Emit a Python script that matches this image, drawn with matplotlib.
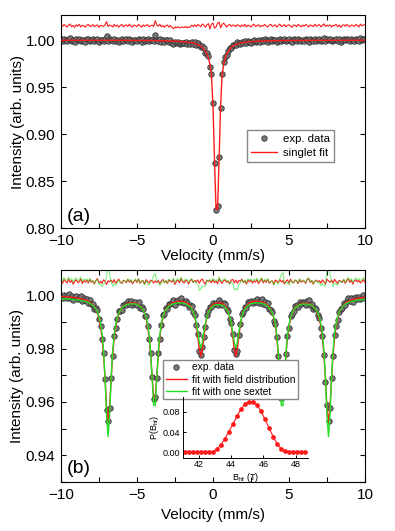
import matplotlib
matplotlib.use("Agg")
import matplotlib.pyplot as plt
import numpy as np
from matplotlib.ticker import MultipleLocator

plt.rcParams['font.family'] = ['Liberation Sans', 'DejaVu Sans']
plt.rcParams['mathtext.default'] = 'regular'

# ---------------- panel (a): singlet ----------------
data_a = [
    1.0008, .9993, 1.0013, .9998, .9986, 1.0006, 1.0018, .9990, 1.0003, .9983,
    1.0010, .9995, 1.0016, .9988, 1.0004, 1.0000, .9984, 1.0007, 1.0014, .9992,
    .9995, 1.0011, .9988, 1.0001, 1.0008, .9981, 1.0004, .9998, .9992, 1.0010,
    1.0042, .9990, 1.0007, 1.0000, .9986, 1.0014, .9993, 1.0005, .9984, 1.0003,
    1.0012, .9988, .9999, 1.0008, .9990, 1.0015, .9995, .9984, 1.0005, 1.0000,
    .9988, 1.0012, 1.0001, .9981, 1.0006, .9992, 1.0002, 1.0008, .9985, .9997,
    1.0003, .9989, 1.0050, 1.0005, .9989, 1.0011, .9984, .9999, .9977, .9995,
    1.0001, .9979, .9995, .9971, .9959, .9978, .9967, .9978, .9963, .9969,
    .9971, .9964, .9976, .9959, .9967, .9961, .9980, .9963, .9977, .9951,
    .9968, .9950, .9927, .9940, .9910, .9865, .9862, .9835, .9710, .9640,
    .9330, .8695, .8190, .8230, .8760, .9280, .9635, .9770, .9820, .9838,
    .9888, .9915, .9915, .9945, .9951, .9945, .9974, .9968, .9960, .9983,
    .9971, .9993, .9968, .9988, .9984, .9970, .9994, 1.0003, .9979, .9991,
    1.0001, .9979, .9995, .9987, 1.0006, .9991, .9980, 1.0001, 1.0010, .9988,
    .9996, 1.0004, .9979, 1.0003, 1.0015, .9989, .9996, 1.0009, .9986, 1.0000,
    1.0007, .9993, .9980, 1.0006, 1.0003, .9988, 1.0012, 1.0000, .9985, 1.0005,
    .9993, 1.0011, 1.0002, .9984, 1.0008, .9999, .9990, 1.0016, .9993, 1.0005,
    1.0011, .9987, 1.0002, 1.0019, .9991, 1.0006, .9996, 1.0009, .9985, 1.0004,
    1.0000, 1.0013, .9989, 1.0008, .9983, 1.0004, 1.0011, .9995, 1.0016, .9998,
    .9989, 1.0009, 1.0002, .9992, 1.0013, 1.0005, .9987, 1.0018, 1.0000, 1.0007,
    1.0012,
]

fit_a = ([0.9998] * 20 + [0.9997] * 23 + [0.9996] * 10 + [0.9995] * 10 + [0.9993] * 5 + [
    .9992, .9992, .9991, .9991, .9990, .9989, .9989, .9988, .9987, .9986,
    .9985, .9984, .9983, .9982, .9981, .9979, .9977, .9975, .9972, .9969,
    .9965, .9960, .9953, .9945, .9935, .9920, .9900, .9880, .9850, .9810,
    .9740, .9620, .9300, .8720, .8200, .8200, .8720, .9300, .9620, .9740,
    .9810, .9850, .9880, .9900, .9920, .9935, .9945, .9953, .9960, .9965,
    .9969, .9972, .9975, .9977, .9979, .9981, .9982, .9983, .9984, .9985,
    .9986, .9987, .9988, .9989, .9989, .9990, .9991, .9991, .9992, .9992,
] + [0.9993] * 5 + [0.9995] * 10 + [0.9996] * 10 + [0.9997] * 20 + [0.9998] * 18)

# ---------------- panel (b): sextet ----------------
data_b = [
    .9998, .9989, 1.0002, .9995, .9990, 1.0003, .9991, .9997, .9982, .9993,
    .9997, .9986, .9988, .9998, .9979, .9988, .9981, .9986, .9972, .9982,
    .9967, .9966, .9948, .9951, .9944, .9909, .9886, .9836, .9785, .9687,
    .9569, .9530, .9579, .9690, .9773, .9848, .9877, .9912, .9939, .9941,
    .9944, .9963, .9965, .9962, .9977, .9968, .9977, .9963, .9971, .9976,
    .9964, .9975, .9953, .9955, .9948, .9922, .9920, .9884, .9837, .9783,
    .9694, .9611, .9619, .9689, .9783, .9836, .9887, .9924, .9931, .9951,
    .9948, .9968, .9968, .9969, .9980, .9964, .9979, .9982, .9973, .9989,
    .9976, .9970, .9978, .9971, .9957, .9964, .9960, .9935, .9924, .9888,
    .9853, .9790, .9777, .9807, .9843, .9879, .9924, .9939, .9955, .9955,
    .9972, .9965, .9972, .9964, .9982, .9970, .9963, .9969, .9966, .9949,
    .9941, .9910, .9895, .9855, .9793, .9778, .9790, .9850, .9890, .9929,
    .9935, .9955, .9951, .9973, .9970, .9979, .9970, .9979, .9976, .9985,
    .9969, .9978, .9985, .9968, .9975, .9964, .9970, .9948, .9946, .9936,
    .9903, .9893, .9844, .9773, .9698, .9614, .9620, .9682, .9778, .9847,
    .9878, .9921, .9930, .9939, .9958, .9962, .9955, .9975, .9966, .9974,
    .9971, .9964, .9977, .9980, .9962, .9967, .9948, .9952, .9947, .9927,
    .9913, .9877, .9847, .9776, .9676, .9588, .9528, .9577, .9691, .9773,
    .9851, .9885, .9905, .9937, .9948, .9952, .9971, .9963, .9977, .9988,
    .9977, .9988, .9975, .9988, .9994, .9987, .9994, .9986, .9990, .9999,
    .9989,
]

fit_dist = [
    .9995, .9995, .9994, .9994, .9994, .9993, .9993, .9992, .9991, .9991,
    .9990, .9989, .9988, .9987, .9986, .9984, .9982, .9980, .9977, .9973,
    .9969, .9963, .9956, .9946, .9932, .9913, .9885, .9842, .9778, .9685,
    .9579, .9526, .9579, .9684, .9776, .9840, .9882, .9910, .9929, .9942,
    .9951, .9958, .9962, .9966, .9968, .9970, .9971, .9971, .9970, .9969,
    .9967, .9964, .9959, .9953, .9944, .9931, .9912, .9884, .9841, .9777,
    .9691, .9616, .9616, .9691, .9778, .9843, .9886, .9915, .9934, .9947,
    .9954, .9961, .9966, .9970, .9972, .9974, .9976, .9976, .9977, .9977,
    .9976, .9975, .9972, .9969, .9965, .9960, .9951, .9938, .9919, .9889,
    .9846, .9796, .9771, .9797, .9845, .9888, .9918, .9938, .9950, .9959,
    .9964, .9968, .9970, .9971, .9971, .9970, .9968, .9965, .9959, .9951,
    .9938, .9918, .9889, .9846, .9797, .9772, .9796, .9845, .9888, .9919,
    .9938, .9951, .9960, .9966, .9970, .9973, .9975, .9976, .9977, .9977,
    .9976, .9976, .9974, .9972, .9970, .9966, .9961, .9954, .9945, .9932,
    .9913, .9887, .9841, .9776, .9690, .9615, .9615, .9690, .9776, .9840,
    .9883, .9911, .9930, .9943, .9952, .9959, .9962, .9966, .9968, .9970,
    .9970, .9970, .9969, .9968, .9965, .9962, .9957, .9950, .9941, .9928,
    .9909, .9882, .9840, .9776, .9684, .9578, .9525, .9579, .9685, .9777,
    .9842, .9884, .9912, .9932, .9946, .9955, .9963, .9969, .9973, .9977,
    .9979, .9982, .9984, .9985, .9987, .9988, .9989, .9990, .9990, .9991,
    .9992,
]

fit_sextet = [
    .9986, .9987, .9986, .9986, .9986, .9985, .9985, .9984, .9983, .9983,
    .9982, .9982, .9981, .9980, .9979, .9977, .9976, .9975, .9972, .9969,
    .9966, .9961, .9955, .9947, .9935, .9919, .9894, .9855, .9793, .9691,
    .9550, .9470, .9550, .9690, .9791, .9853, .9891, .9916, .9932, .9943,
    .9950, .9958, .9961, .9964, .9965, .9967, .9968, .9967, .9967, .9966,
    .9965, .9962, .9957, .9952, .9944, .9933, .9916, .9891, .9850, .9784,
    .9688, .9587, .9587, .9687, .9784, .9851, .9892, .9918, .9935, .9946,
    .9952, .9958, .9962, .9966, .9967, .9969, .9970, .9971, .9971, .9971,
    .9970, .9969, .9967, .9963, .9960, .9956, .9948, .9937, .9921, .9896,
    .9863, .9823, .9803, .9824, .9862, .9895, .9919, .9936, .9946, .9954,
    .9959, .9962, .9964, .9964, .9964, .9964, .9962, .9960, .9954, .9947,
    .9936, .9919, .9895, .9862, .9823, .9803, .9822, .9861, .9894, .9921,
    .9937, .9948, .9956, .9961, .9964, .9968, .9969, .9970, .9971, .9971,
    .9971, .9970, .9969, .9967, .9966, .9962, .9958, .9952, .9944, .9933,
    .9916, .9893, .9849, .9782, .9686, .9586, .9586, .9687, .9783, .9849,
    .9890, .9915, .9932, .9943, .9951, .9957, .9960, .9964, .9965, .9967,
    .9966, .9967, .9966, .9965, .9963, .9961, .9956, .9950, .9943, .9932,
    .9916, .9892, .9853, .9791, .9690, .9549, .9470, .9550, .9691, .9792,
    .9855, .9893, .9918, .9935, .9947, .9954, .9961, .9966, .9969, .9972,
    .9974, .9976, .9977, .9978, .9980, .9981, .9982, .9982, .9982, .9983,
    .9984,
]

# hyperfine field distribution (inset)
b_hf = [41.10, 41.35, 41.60, 41.85, 42.10, 42.35, 42.60, 42.85, 43.10, 43.35,
        43.60, 43.85, 44.10, 44.35, 44.60, 44.85, 45.10, 45.35, 45.60, 45.85,
        46.10, 46.35, 46.60, 46.85, 47.10, 47.35, 47.60, 47.85, 48.10, 48.35,
        48.60]
p_bhf = [.0010, .0010, .0010, .0010, .0008, .0006, .0005, .0015, .0060, .0145,
         .0270, .0405, .0555, .0710, .0850, .0950, .1000, .1000, .0935, .0810,
         .0650, .0480, .0310, .0170, .0070, .0020, .0010, .0010, .0010, .0010,
         .0010]

# residual offsets used for the curves on top of each panel
resid_offset_a = 1.015
resid_offset_b = 1.005

vel_a = np.linspace(-10, 10, len(data_a))
vel_b = np.linspace(-10, 10, len(data_b))
resid_a = np.array(data_a) - np.array(fit_a) + resid_offset_a
resid_dist = np.array(data_b) - np.array(fit_dist) + resid_offset_b
resid_sext = np.array(data_b) - np.array(fit_sextet) + resid_offset_b

RED = '#ff1a1a'
GREEN = '#22e022'
dot_kw = dict(ls='none', marker='o', ms=3.9, mfc='#7a7a7a', mec='#333333', mew=0.6)

fig = plt.figure(figsize=(3.95, 5.31), dpi=100)
ax1 = fig.add_axes([0.1544, 0.5706, 0.7696, 0.4011])
ax2 = fig.add_axes([0.1544, 0.0923, 0.7696, 0.3992])


def style_axes(ax):
    ax.set_xlim(-10, 10)
    ax.xaxis.set_major_locator(MultipleLocator(5))
    ax.xaxis.set_minor_locator(MultipleLocator(2.5))
    ax.tick_params(which='both', direction='in', top=True, right=True,
                   length=3.5, width=0.8, labelsize=11, pad=4)
    for s in ax.spines.values():
        s.set_linewidth(0.8)


# panel (a)
ax1.plot(vel_a, resid_a, color=RED, lw=0.8)
ax1.plot(vel_a, data_a, label='exp. data', zorder=2, **dot_kw)
ax1.plot(vel_a, fit_a, color=RED, lw=1.0, label='singlet fit', zorder=3)
style_axes(ax1)
ax1.set_ylim(0.80, 1.0266)
ax1.yaxis.set_major_locator(MultipleLocator(0.05))
ax1.yaxis.set_major_formatter(plt.FormatStrFormatter('%.2f'))
ax1.set_xlabel('Velocity (mm/s)', fontsize=11)
ax1.set_ylabel('Intensity (arb. units)', fontsize=11)
ax1.xaxis.set_label_coords(0.5, -0.098)
ax1.yaxis.set_label_coords(-0.118, 0.5)
ax1.text(0.018, 0.012, '(a)', transform=ax1.transAxes, fontsize=14, va='bottom')
ax1.legend(loc='upper left', bbox_to_anchor=(0.612, 0.462), fontsize=8.2,
           frameon=True, fancybox=False, edgecolor='#888888', framealpha=1,
           borderaxespad=0, handlelength=2.3, numpoints=1, labelspacing=0.35,
           borderpad=0.35, handletextpad=0.5)

# panel (b)
ax2.plot(vel_b, resid_dist, color=RED, lw=0.8)
ax2.plot(vel_b, resid_sext, color=GREEN, lw=0.8, alpha=0.55)
ax2.plot(vel_b, data_b, label='exp. data', zorder=2, **dot_kw)
ax2.plot(vel_b, fit_dist, color=RED, lw=1.0, label='fit with field distribution', zorder=3)
ax2.plot(vel_b, fit_sextet, color=GREEN, lw=1.0, label='fit with one sextet', zorder=3)
style_axes(ax2)
ax2.set_ylim(0.93, 1.0094)
ax2.yaxis.set_major_locator(MultipleLocator(0.02))
ax2.yaxis.set_minor_locator(MultipleLocator(0.01))
ax2.yaxis.set_major_formatter(plt.FormatStrFormatter('%.2f'))
ax2.set_xlabel('Velocity (mm/s)', fontsize=11)
ax2.set_ylabel('Intensity (arb. units)', fontsize=11)
ax2.xaxis.set_label_coords(0.5, -0.125)
ax2.yaxis.set_label_coords(-0.122, 0.5)
ax2.text(0.018, 0.022, '(b)', transform=ax2.transAxes, fontsize=14, va='bottom')
ax2.legend(loc='upper left', bbox_to_anchor=(0.336, 0.576), fontsize=7.4,
           frameon=True, fancybox=False, edgecolor='#888888', framealpha=1,
           borderaxespad=0, handlelength=2.1, numpoints=1, labelspacing=0.2,
           borderpad=0.25, handletextpad=0.5)

# inset with the field distribution
axin = fig.add_axes([0.4625, 0.138, 0.3185, 0.1149])
axin.patch.set_alpha(0)
axin.plot(b_hf, p_bhf, color=RED, lw=0.8, marker='o', ms=2.4, mfc=RED, mec=RED)
axin.set_xlim(40.98, 48.8)
axin.set_ylim(-0.0106, 0.1096)
axin.set_xticks([42, 44, 46, 48])
axin.set_yticks([0.0, 0.04, 0.08])
axin.yaxis.set_major_formatter(plt.FormatStrFormatter('%.2f'))
axin.spines['top'].set_visible(False)
axin.spines['right'].set_visible(False)
for s in ('left', 'bottom'):
    axin.spines[s].set_linewidth(0.7)
axin.tick_params(direction='in', length=2.5, width=0.7, labelsize=6.5, pad=2)
axin.set_xlabel('B$_{hf}$ (T)', fontsize=6.5, labelpad=1)
axin.set_ylabel('P(B$_{hf}$)', fontsize=6.5, labelpad=1)

fig.savefig('out.png', dpi=100)
